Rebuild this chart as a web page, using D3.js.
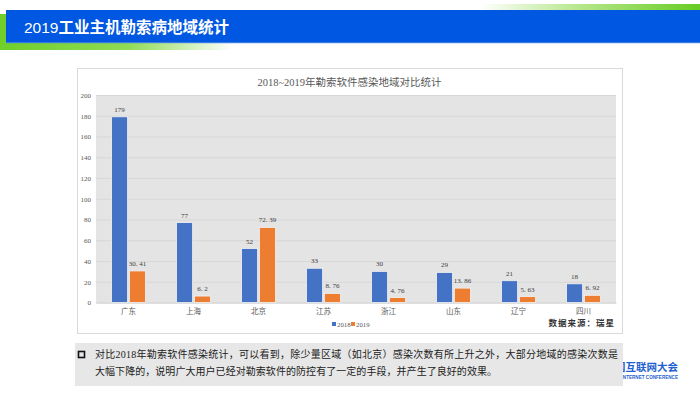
<!DOCTYPE html>
<html>
<head>
<meta charset="utf-8">
<script src="https://cdn.jsdelivr.net/npm/d3@7"></script>
<style>
  html, body { margin: 0; padding: 0; background: #fff; }
  svg { display: block; }
</style>
</head>
<body>
<script>
const W = 700, H = 394;

const regions = ['广东', '上海', '北京', '江苏', '浙江', '山东', '辽宁', '四川'];
const series = ['2018', '2019'];
const values2018 = [179, 77, 52, 33, 30, 29, 21, 18];
const values2019 = [30.41, 6.2, 72.39, 8.76, 4.76, 13.86, 5.63, 6.92];
const yTicks = [0, 20, 40, 60, 80, 100, 120, 140, 160, 180, 200];

const colors = { '2018': '#4472c4', '2019': '#ed7d31' };
const serif = '"Liberation Serif", "DejaVu Serif", "Noto Sans CJK SC", serif';
const cjk = '"Noto Sans CJK SC", sans-serif';

const svg = d3.select('body').append('svg')
  .attr('width', W)
  .attr('height', H);

const defs = svg.append('defs');
const gBottom = defs.append('linearGradient').attr('id', 'gBottom');
gBottom.append('stop').attr('offset', '0%').attr('stop-color', '#6fcf2a');
gBottom.append('stop').attr('offset', '55%').attr('stop-color', '#8fdb55');
gBottom.append('stop').attr('offset', '100%').attr('stop-color', '#ffffff');
const gTop = defs.append('linearGradient').attr('id', 'gTop');
gTop.append('stop').attr('offset', '0%').attr('stop-color', '#ffffff');
gTop.append('stop').attr('offset', '45%').attr('stop-color', '#b6e78c');
gTop.append('stop').attr('offset', '100%').attr('stop-color', '#66cc22');

// header band
svg.append('rect').attr('x', 0).attr('y', 14).attr('width', 233).attr('height', 36).attr('fill', 'url(#gBottom)');
svg.append('rect').attr('x', 480).attr('y', 4).attr('width', 220).attr('height', 8).attr('fill', 'url(#gTop)');
svg.append('rect').attr('x', 6).attr('y', 10).attr('width', 694).attr('height', 33).attr('fill', '#0057e1');
svg.append('rect').attr('x', 6).attr('y', 42).attr('width', 694).attr('height', 1.2).attr('fill', '#3a7ae6');

const head = svg.append('text')
  .attr('x', 24).attr('y', 32.5)
  .attr('fill', '#fff')
  .attr('font-size', 15.5);
head.append('tspan').attr('font-family', '"Liberation Sans", Arial, sans-serif').text('2019');
head.append('tspan').attr('font-family', cjk).attr('font-weight', 'bold').text('工业主机勒索病地域统计');

// logo (partly hidden behind the note box)
svg.append('text')
  .attr('x', 678).attr('y', 371)
  .attr('text-anchor', 'end')
  .attr('font-family', cjk).attr('font-weight', 'bold')
  .attr('font-size', 10.5).attr('fill', '#1f5fd0')
  .text('中国互联网大会');
svg.append('text')
  .attr('x', 678).attr('y', 378.5)
  .attr('text-anchor', 'end')
  .attr('font-family', '"Liberation Sans", Arial, sans-serif').attr('font-weight', 'bold')
  .attr('font-size', 4.6).attr('fill', '#1f5fd0')
  .text('CHINA INTERNET CONFERENCE');

// chart frame
svg.append('rect')
  .attr('x', 77.5).attr('y', 68.5).attr('width', 545).attr('height', 265)
  .attr('fill', '#fff').attr('stroke', '#d9d9d9');

svg.append('text')
  .attr('x', 349.5).attr('y', 85.5)
  .attr('text-anchor', 'middle')
  .attr('font-family', serif).attr('font-size', 10.5).attr('fill', '#595959')
  .text('2018~2019年勒索软件感染地域对比统计');

const margin = { left: 96, right: 616, top: 95, bottom: 302.5 };

const x = d3.scaleBand()
  .domain(regions)
  .range([margin.left, margin.right]);

const xs = d3.scaleBand()
  .domain(series)
  .range([0, x.bandwidth() * 0.52])
  .paddingInner(0.1);

const y = d3.scaleLinear()
  .domain([0, 200])
  .range([margin.bottom, margin.top]);

svg.append('rect')
  .attr('x', margin.left).attr('y', margin.top)
  .attr('width', margin.right - margin.left).attr('height', margin.bottom - margin.top)
  .attr('fill', '#e4e4e4');

const yAxis = d3.axisLeft(y)
  .tickValues(yTicks)
  .tickSize(-(margin.right - margin.left))
  .tickPadding(5);

svg.append('g')
  .attr('transform', `translate(${margin.left},0)`)
  .call(yAxis)
  .call(g => g.select('.domain').remove())
  .call(g => g.selectAll('.tick line').attr('stroke', '#d4d4d4').attr('stroke-width', 0.8))
  .call(g => g.selectAll('.tick text').attr('font-family', serif).attr('font-size', 7).attr('fill', '#595959'));

const xAxis = d3.axisBottom(x).tickSize(0).tickPadding(6);
svg.append('g')
  .attr('transform', `translate(0,${margin.bottom})`)
  .call(xAxis)
  .call(g => g.select('.domain').attr('stroke', '#d0d0d0'))
  .call(g => g.selectAll('.tick text').attr('font-family', serif).attr('font-size', 7.5).attr('fill', '#595959'));

const rows = regions.map((r, i) => ({ region: r, '2018': values2018[i], '2019': values2019[i] }));
const offset = (x.bandwidth() - xs.range()[1]) / 2;

const groups = svg.append('g').selectAll('g')
  .data(rows)
  .join('g')
  .attr('transform', d => `translate(${x(d.region) + offset},0)`);

groups.selectAll('rect')
  .data(d => series.map(s => ({ key: s, value: d[s] })))
  .join('rect')
  .attr('x', d => xs(d.key))
  .attr('y', d => y(d.value))
  .attr('width', xs.bandwidth())
  .attr('height', d => y(0) - y(d.value))
  .attr('fill', d => colors[d.key])
  .attr('stroke', '#f2f2f2')
  .attr('stroke-width', 0.8);

groups.selectAll('text')
  .data(d => series.map(s => ({ key: s, value: d[s] })))
  .join('text')
  .attr('x', d => xs(d.key) + xs.bandwidth() / 2)
  .attr('y', d => y(d.value) - 5)
  .attr('text-anchor', 'middle')
  .attr('font-family', serif).attr('font-size', 7).attr('fill', '#404040')
  .text(d => String(d.value).replace('.', '. '));

// legend
const legend = svg.append('g').attr('transform', 'translate(332,325)');
series.forEach((s, i) => {
  const lg = legend.append('g').attr('transform', `translate(${i * 19},0)`);
  lg.append('rect').attr('x', 0).attr('y', -3).attr('width', 4).attr('height', 4).attr('fill', colors[s]);
  lg.append('text').attr('x', 5).attr('y', 1.5)
    .attr('font-family', serif).attr('font-size', 6.8).attr('fill', '#595959').text(s);
});

svg.append('text')
  .attr('x', 615).attr('y', 326)
  .attr('text-anchor', 'end')
  .attr('font-family', cjk).attr('font-weight', 'bold')
  .attr('font-size', 8.5).attr('fill', '#333')
  .attr('letter-spacing', 1)
  .text('数据来源：瑞星');

// note box
svg.append('rect')
  .attr('x', 75).attr('y', 343).attr('width', 548).attr('height', 43)
  .attr('fill', '#e7e7e7');
svg.append('rect')
  .attr('x', 78.5).attr('y', 351.5).attr('width', 6).attr('height', 6)
  .attr('fill', 'none').attr('stroke', '#111').attr('stroke-width', 1.6);

const notes = [
  '对比2018年勒索软件感染统计，可以看到，除少量区域（如北京）感染次数有所上升之外，大部分地域的感染次数是',
  '大幅下降的，说明广大用户已经对勒索软件的防控有了一定的手段，并产生了良好的效果。'
];
const noteLen = [523, 402];
notes.forEach((t, i) => {
  svg.append('text')
    .attr('x', 95).attr('y', 358 + i * 17)
    .attr('font-family', serif).attr('font-size', 10).attr('fill', '#222')
    .attr('textLength', noteLen[i]).attr('lengthAdjust', 'spacing')
    .text(t);
});
</script>
</body>
</html>
